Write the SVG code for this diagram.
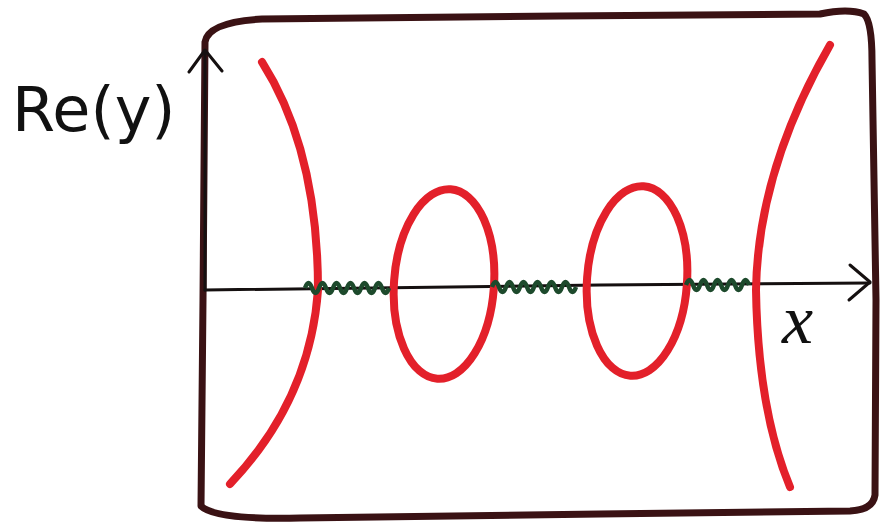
<svg xmlns="http://www.w3.org/2000/svg" width="889" height="527" viewBox="0 0 889 527">
<style>
.frame{fill:none;stroke:#3a1214;stroke-width:7;stroke-linecap:round;stroke-linejoin:round}
.axis{fill:none;stroke:#151010;stroke-width:3;stroke-linecap:round;stroke-linejoin:round}
.red{fill:none;stroke:#e3202a;stroke-width:8;stroke-linecap:round}
.wave{fill:none;stroke:#1d4a2c;stroke-width:4.5;stroke-linejoin:round}
.lbl{font-family:"DejaVu Sans","Liberation Sans",sans-serif;fill:#111}
.xl{font-family:"Liberation Serif",serif;font-style:italic;fill:#111}
</style>
<rect width="889" height="527" fill="#fff"/>
<path class="frame" d="M205,42 Q208,22 262,19 L560,16 L820,14 Q848,8 864,14 Q872,22 872,60 L876,300 L875,495 Q873,510 850,511 L600,514 L300,518 Q215,520 201,506 L203,300 Z"/>
<g id="axes">
<path class="axis" stroke-width="4" d="M205,290 L205,52 M189,72 L205,50 L222,71"/>
<path class="axis" stroke-width="2.5" d="M205,290 L600,285 L870,283"/>
<path class="axis" stroke-width="4" d="M850,265 L870,282 L849,300"/>
</g>
<g id="curves">
<path class="red" d="M262,62 Q318,150 318,290 Q310,400 230,484"/>
<path class="red" d="M830,45 Q758,170 756,290 Q758,410 790,487"/>
<ellipse class="red" cx="444" cy="284" rx="50" ry="95" transform="rotate(4 444 284)"/>
<ellipse class="red" cx="637" cy="281" rx="50" ry="95" transform="rotate(4 637 281)"/>
</g>
<g id="cuts">
<path class="wave" d="M305,288 q3.5,-10 7,0 t7,0 t7,0 t7,0 t7,0 t7,0 t7,0 t7,0 t7,0 t7,0 t7,0 t7,0"/>
<path class="wave" d="M492,287 q3.5,-10 7,0 t7,0 t7,0 t7,0 t7,0 t7,0 t7,0 t7,0 t7,0 t7,0 t7,0 t7,0"/>
<path class="wave" d="M686,285 q3.5,-10 7,0 t7,0 t7,0 t7,0 t7,0 t7,0 t7,0 t7,0 t7,0"/>
</g>
<text class="lbl" x="12" y="131" font-size="62">Re(y)</text>
<text class="xl" x="782" y="343" font-size="70">x</text>
</svg>
